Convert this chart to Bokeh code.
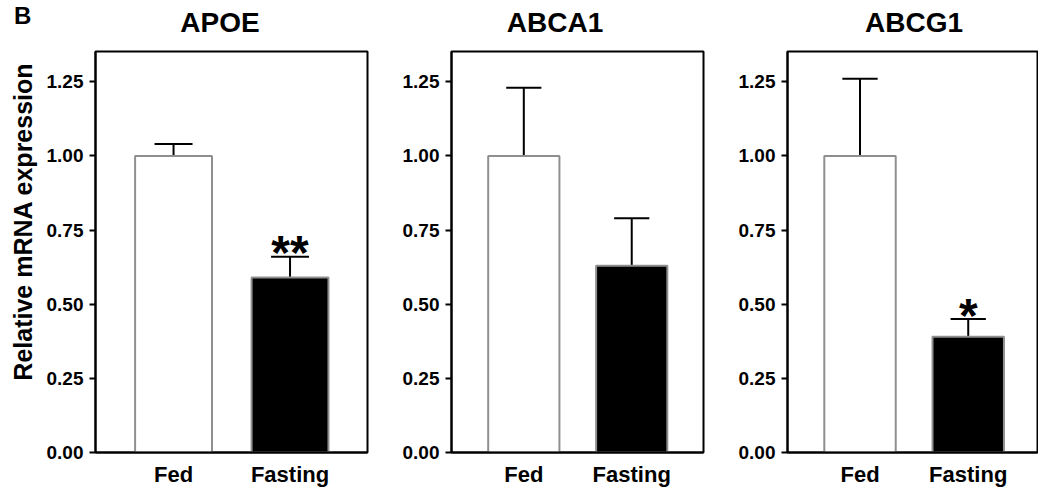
from bokeh.plotting import figure
from bokeh.layouts import row, column
from bokeh.models import FixedTicker, NumeralTickFormatter, ColumnDataSource, Div, Title
from bokeh.embed import file_html
from bokeh.resources import INLINE
from bokeh.core.properties import value

# ---- data ----
genes = ["APOE", "ABCA1", "ABCG1"]
groups = ["Fed", "Fasting"]
means = {"APOE": [1.00, 0.59], "ABCA1": [1.00, 0.63], "ABCG1": [1.00, 0.39]}
errors = {"APOE": [0.04, 0.07], "ABCA1": [0.23, 0.16], "ABCG1": [0.26, 0.06]}
signif = {"APOE": ["", "**"], "ABCA1": ["", ""], "ABCG1": ["", "*"]}
y_ticks = [0.0, 0.25, 0.50, 0.75, 1.00, 1.25]
y_label = "Relative mRNA expression"
panel_letter = "B"

FONT = "Liberation Sans"
fills = ["white", "black"]
H = 478

# layout per panel: (width, border_left, border_right, x_end, title_center_px)
layout = [(399, 95, 32, 2.665, 215), (336, 33, 32, 2.665, 550), (303, 33, 1, 2.64, 909)]

figs = []
for i, g in enumerate(genes):
    w, bl, br, xend, tc = layout[i]
    p = figure(width=w, height=H, output_backend="svg", toolbar_location=None,
               x_range=(0.33, xend), y_range=(0, 1.352),
               min_border_left=bl, min_border_right=br,
               min_border_top=40, min_border_bottom=31,
               border_fill_color=None, background_fill_color="white")
    xs = [1, 2]
    m = means[g]
    e = errors[g]
    src = ColumnDataSource(dict(x=xs, top=m, fill=fills,
                                err_top=[a + b for a, b in zip(m, e)],
                                cap_l=[x - 0.163 for x in xs],
                                cap_r=[x + 0.163 for x in xs],
                                star=signif[g]))
    p.segment(x0="x", y0="top", x1="x", y1="err_top", source=src,
              line_color="black", line_width=2)
    p.segment(x0="cap_l", y0="err_top", x1="cap_r", y1="err_top", source=src,
              line_color="black", line_width=2)
    p.vbar(x="x", top="top", bottom=0, width=0.66, source=src,
           fill_color="fill", line_color="#8f8f8f", line_width=2)
    p.text(x="x", y="err_top", text="star", source=src,
           text_font=value(FONT), text_font_style="bold", text_font_size="48px",
           text_align="center", text_baseline="alphabetic", y_offset=-4,
           text_color="black")

    p.xgrid.visible = False
    p.ygrid.visible = False
    p.outline_line_color = "black"
    p.outline_line_width = 2
    p.outline_line_alpha = 1

    p.yaxis.ticker = FixedTicker(ticks=y_ticks)
    p.yaxis.formatter = NumeralTickFormatter(format="0.00")
    p.yaxis.minor_tick_line_color = None
    p.yaxis.major_tick_out = 6
    p.yaxis.major_tick_in = 0
    p.yaxis.major_tick_line_width = 2
    p.yaxis.axis_line_width = 2
    p.yaxis.major_label_text_font = FONT
    p.yaxis.major_label_text_font_style = "bold"
    p.yaxis.major_label_text_font_size = "19px"
    p.yaxis.major_label_text_color = "black"
    p.yaxis.major_label_standoff = 6

    p.xaxis.ticker = FixedTicker(ticks=xs)
    p.xaxis.major_label_overrides = {1: groups[0], 2: groups[1]}
    p.xaxis.minor_tick_line_color = None
    p.xaxis.major_tick_line_color = None
    p.xaxis.major_tick_out = 0
    p.xaxis.major_tick_in = 0
    p.xaxis.axis_line_width = 2
    p.xaxis.major_label_text_font = FONT
    p.xaxis.major_label_text_font_style = "bold"
    p.xaxis.major_label_text_font_size = "22px"
    p.xaxis.major_label_text_color = "black"
    p.xaxis.major_label_standoff = 9

    if i == 0:
        p.add_layout(Title(text=y_label, align="right", offset=11, standoff=13,
                           text_font=FONT, text_font_style="bold",
                           text_font_size="25px", text_color="black"), "left")
    figs.append(p)

span_style = ("position:absolute; top:-7px; width:200px; text-align:center; "
              "font-family:'Liberation Sans'; font-weight:bold; font-size:28px; "
              "line-height:28px; color:black; white-space:nowrap;")
spans = ''.join('<span style="%s left:%dpx;">%s</span>' % (span_style, layout[i][4] - 100, g)
                for i, g in enumerate(genes))
letter_span = ('<span style="position:absolute; left:9px; top:-12px; '
               'font-family:\'Liberation Sans\'; font-weight:bold; font-size:24px; '
               'line-height:24px; color:black;">' + panel_letter + '</span>')
header = Div(text='<div style="position:relative; width:1030px; height:1px;">'
                  + letter_span + spans + '</div>',
             width=1030, height=1, styles={"overflow": "visible"})

layout_all = column(header, row(*figs, spacing=0), spacing=0)
open("out.html", "w").write(file_html(layout_all, INLINE))
